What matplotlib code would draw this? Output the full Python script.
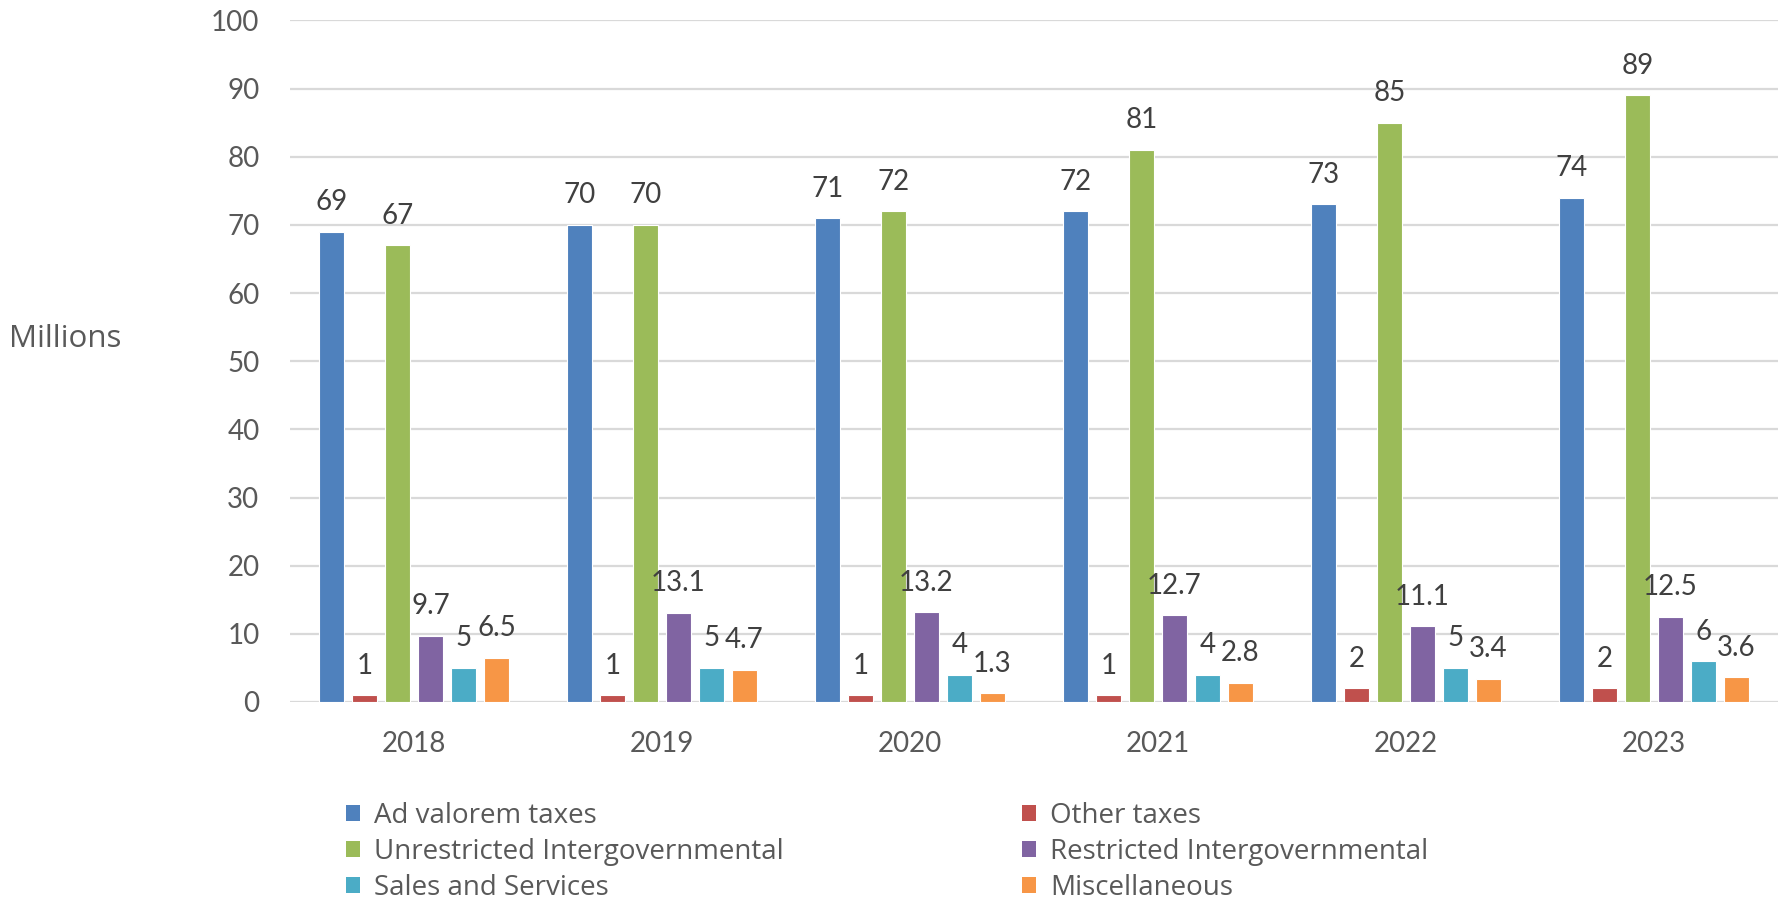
import matplotlib
matplotlib.use("Agg")
import matplotlib.pyplot as plt
from matplotlib.patches import Patch
import numpy as np

plt.rcParams['font.family'] = ['Lato', 'DejaVu Sans']
TEXT_FAMILY = ['Open Sans', 'DejaVu Sans']

years = ["2018", "2019", "2020", "2021", "2022", "2023"]
series_names = [
    "Ad valorem taxes",
    "Other taxes",
    "Unrestricted Intergovernmental",
    "Restricted Intergovernmental",
    "Sales and Services",
    "Miscellaneous",
]
ad_valorem = [69, 70, 71, 72, 73, 74]
other_taxes = [1, 1, 1, 1, 2, 2]
unrestricted = [67, 70, 72, 81, 85, 89]
restricted = [9.7, 13.1, 13.2, 12.7, 11.1, 12.5]
sales_services = [5, 5, 4, 4, 5, 6]
miscellaneous = [6.5, 4.7, 1.3, 2.8, 3.4, 3.6]
y_ticks = [0, 10, 20, 30, 40, 50, 60, 70, 80, 90, 100]

series_values = [ad_valorem, other_taxes, unrestricted, restricted,
                 sales_services, miscellaneous]
colors = ["#4F81BD", "#C0504D", "#9BBB59", "#8064A2", "#4BACC6", "#F79646"]

W, H = 1781, 901
fig = plt.figure(figsize=(W / 100, H / 100), dpi=100)
ax = fig.add_axes([290 / W, 1 - 702 / H, (1778 - 290) / W, (702 - 20.4) / H])

x = np.arange(len(years))
step = 0.133
width = 0.104
label_color = "#404040"


def fmt(v):
    return f"{v:g}"


for i, (vals, col) in enumerate(zip(series_values, colors)):
    pos = x + (i - 2.5) * step
    bars = ax.bar(pos, vals, width=width, color=col, edgecolor="white",
                  linewidth=0.8, zorder=3)
    for b, v in zip(bars, vals):
        ax.annotate(fmt(v), (b.get_x() + b.get_width() / 2, v),
                    xytext=(0, 15.5), textcoords="offset points",
                    ha="center", va="baseline", fontsize=20,
                    color=label_color, zorder=4)

ax.set_xlim(-0.5, len(years) - 0.5)
ax.set_ylim(0, 100)
ax.set_yticks(y_ticks)
ax.set_xticks(x)
ax.set_xticklabels(years)
ax.tick_params(axis="both", length=0, labelsize=20, labelcolor="#595959")
ax.tick_params(axis="y", pad=22)
ax.tick_params(axis="x", pad=21)
ax.grid(axis="y", color="#D9D9D9", linewidth=1.6, zorder=0)
for s in ax.spines.values():
    s.set_visible(False)

fig.text(9 / W, 1 - 339 / H, "Millions", fontsize=22.5, color="#595959",
         ha="left", va="center", family=TEXT_FAMILY)

# two-column legend below the plot
col1 = [0, 2, 4]
col2 = [1, 3, 5]
legend_kw = dict(frameon=False, handlelength=0.52, handleheight=0.52,
                 handletextpad=0.5, labelspacing=0.29, borderpad=0,
                 borderaxespad=0, labelcolor="#595959",
                 prop={'family': TEXT_FAMILY, 'size': 20})
h1 = [Patch(facecolor=colors[i], edgecolor="none") for i in col1]
h2 = [Patch(facecolor=colors[i], edgecolor="none") for i in col2]
leg1 = fig.legend(h1, [series_names[i] for i in col1], loc="upper left",
                  bbox_to_anchor=(346 / W, 1 - 802 / H), **legend_kw)
leg2 = fig.legend(h2, [series_names[i] for i in col2], loc="upper left",
                  bbox_to_anchor=(1022 / W, 1 - 802 / H), **legend_kw)

fig.savefig("out.png", dpi=100)
